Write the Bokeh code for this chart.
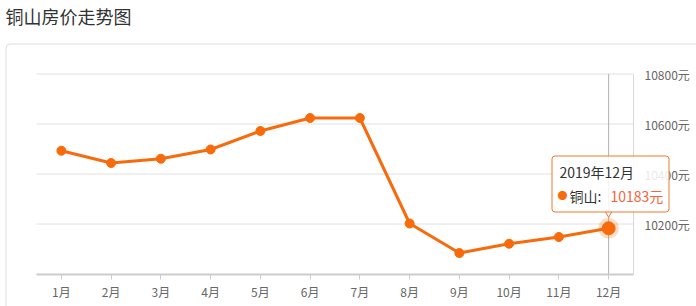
from bokeh.plotting import figure
from bokeh.models import Range1d, FixedTicker, Label, BoxAnnotation, LinearAxis
from bokeh.embed import file_html
from bokeh.resources import INLINE

chart_title = "铜山房价走势图"
series_name = "铜山"
tooltip_title = "2019年12月"
months = ["1月", "2月", "3月", "4月", "5月", "6月", "7月", "8月", "9月", "10月", "11月", "12月"]
prices = [10493, 10444, 10461, 10498, 10572, 10624, 10624, 10202, 10084, 10121, 10148, 10183]
y_min, y_max = 10000, 10800
y_ticks = [10200, 10400, 10600, 10800]
y_tick_labels = ["10200元", "10400元", "10600元", "10800元"]

FONT = "Noto Sans CJK SC"
ORANGE = "#f76b0c"
W, H = 696, 306

idx = list(range(len(months)))
band_lo, band_hi = -0.5, len(months) - 0.5
BAND_PX = 49.75          # pixel width of one month band
PX_PER_UNIT = 4.0        # price units per pixel
LEFT_PX, RIGHT_PX = 36, 63
TOP_PX, BOTTOM_PX = 73.5, 32.5

x_range = Range1d(band_lo - LEFT_PX / BAND_PX, band_hi + RIGHT_PX / BAND_PX)
y_range = Range1d(y_min - BOTTOM_PX * PX_PER_UNIT, y_max + TOP_PX * PX_PER_UNIT)

p = figure(width=W, height=H, x_range=x_range, y_range=y_range,
           output_backend="svg", toolbar_location=None, x_axis_type=None, y_axis_type=None,
           min_border=0, min_border_left=0, min_border_right=0, min_border_top=0, min_border_bottom=0)
p.outline_line_color = None
p.background_fill_color = "white"
p.border_fill_color = "white"
p.xgrid.visible = False
p.ygrid.visible = False

# title
p.add_layout(Label(x=5, y=H - 15, x_units="screen", y_units="screen", text=chart_title,
                   text_font=FONT, text_font_size="18px", text_color="#333333",
                   text_align="left", text_baseline="middle"))

# card border
p.add_layout(BoxAnnotation(left=5.5, right=W + 100, top=H - 43.5, bottom=-100,
                           left_units="screen", right_units="screen",
                           top_units="screen", bottom_units="screen",
                           fill_alpha=0, line_color="#dddddd", line_alpha=1, line_width=1,
                           border_radius=4))

# grid lines (price ticks) across the month bands
p.segment(x0=[band_lo] * len(y_ticks), x1=[band_hi] * len(y_ticks), y0=y_ticks, y1=y_ticks,
          line_color="#e0e0e0", line_width=1)

# x axis
xa = LinearAxis(fixed_location=y_min, bounds=(band_lo, band_hi),
                ticker=FixedTicker(ticks=idx),
                major_label_overrides={i: m for i, m in zip(idx, months)})
xa.axis_line_color = "#cccccc"
xa.axis_line_width = 2
xa.major_tick_line_color = "#cccccc"
xa.major_tick_out = 5
xa.major_tick_in = 0
xa.minor_tick_line_color = None
xa.major_label_text_font = FONT
xa.major_label_text_font_size = "12px"
xa.major_label_text_color = "#666666"
xa.major_label_standoff = 4
p.add_layout(xa, "below")

# y axis on the right
ya = LinearAxis(fixed_location=band_hi, bounds=(y_min, y_max),
                ticker=FixedTicker(ticks=y_ticks),
                major_label_overrides={t: s for t, s in zip(y_ticks, y_tick_labels)})
ya.axis_line_color = "#d9d9d9"
ya.major_tick_line_color = None
ya.minor_tick_line_color = None
ya.major_tick_out = 0
ya.major_tick_in = 0
ya.major_label_text_font = FONT
ya.major_label_text_font_size = "12px"
ya.major_label_text_color = "#666666"
ya.major_label_standoff = 11
p.add_layout(ya, "right")

# crosshair at last month
p.segment(x0=[idx[-1]], y0=[y_min], x1=[idx[-1]], y1=[y_max],
          line_color="#b0b0b0", line_width=1)

# series
p.line(idx, prices, line_color=ORANGE, line_width=3)
p.scatter(idx[:-1], prices[:-1], size=9, fill_color=ORANGE, line_color=ORANGE)
p.scatter([idx[-1]], [prices[-1]], size=21, fill_color=ORANGE, fill_alpha=0.22, line_color=None)
p.scatter([idx[-1]], [prices[-1]], size=13, fill_color=ORANGE, line_color=ORANGE)

# tooltip pointer notch
p.scatter([idx[-1]], [prices[-1] + 15 * PX_PER_UNIT], marker="inverted_triangle", size=7,
          fill_color="white", line_color="#f07a30", line_width=1)

# tooltip box and text
p.add_layout(BoxAnnotation(left=551.5, right=668.5, top=H - 155.5, bottom=H - 211.5,
                           left_units="screen", right_units="screen",
                           top_units="screen", bottom_units="screen",
                           fill_color="white", fill_alpha=0.85,
                           line_color="#f07a30", line_alpha=1, line_width=1, border_radius=3))
p.add_layout(Label(x=559, y=H - 171, x_units="screen", y_units="screen", text=tooltip_title,
                   text_font=FONT, text_font_size="14px", text_color="#333333",
                   text_align="left", text_baseline="middle"))
p.add_layout(Label(x=562, y=H - 195, x_units="screen", y_units="screen", text="●",
                   text_font=FONT, text_font_size="10px", text_color=ORANGE,
                   text_align="center", text_baseline="middle"))
p.add_layout(Label(x=569, y=H - 195, x_units="screen", y_units="screen", text=series_name + ":",
                   text_font=FONT, text_font_size="14px", text_color="#333333",
                   text_align="left", text_baseline="middle"))
p.add_layout(Label(x=610, y=H - 195, x_units="screen", y_units="screen", text=f"{prices[-1]}元",
                   text_font=FONT, text_font_size="14px", text_color="#f3653b",
                   text_align="left", text_baseline="middle"))

open("out.html", "w").write(file_html(p, INLINE))
